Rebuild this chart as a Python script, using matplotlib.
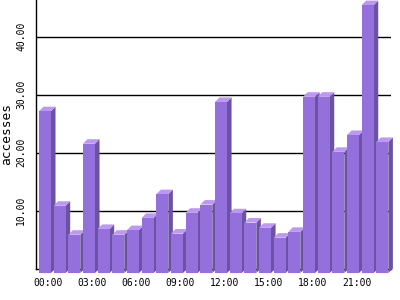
import matplotlib
matplotlib.use("Agg")
import matplotlib.pyplot as plt

hours = ["%02d:00" % h for h in range(24)]
accesses = [27.9, 11.6, 6.6, 22.3, 7.6, 6.6, 7.4, 9.5, 13.6, 6.8, 10.4, 11.8,
            29.5, 10.3, 8.7, 7.8, 6.1, 7.1, 30.4, 30.4, 20.9, 23.8, 46.2, 22.6]
yticks = [10, 20, 30, 40]

front_col = "#9370DB"
side_col = "#6B52A3"
top_col = "#BE96F8"

w = 0.82     # front face width
dx = 0.31    # depth offset in x (data units)
dy = 0.78    # depth offset in y (data units)

fig = plt.figure(figsize=(4, 3), dpi=100)
ax = fig.add_axes([0.09, 0.105, 0.8875, 0.895])

ax.set_xlim(-0.2, 24.0)
ax.set_ylim(0, 46.3)

for y in yticks:
    ax.axhline(y, color="black", lw=1.0, zorder=1)

for i, v in enumerate(accesses):
    z = 2 + i
    ax.fill([i + w, i + w + dx, i + w + dx, i + w],
            [-dy, 0, v, v - dy], color=side_col, lw=0, zorder=z, clip_on=False)
    ax.fill([i, i + dx, i + w + dx, i + w],
            [v - dy, v, v, v - dy], color=top_col, lw=0, zorder=z, clip_on=False)
    ax.bar(i, v, width=w, bottom=-dy, align="edge", color=front_col, lw=0,
           zorder=z, clip_on=False)

for s in ["top", "right"]:
    ax.spines[s].set_visible(False)
for s in ["left", "bottom"]:
    ax.spines[s].set_linewidth(1.0)
    ax.spines[s].set_zorder(1)

mono = "DejaVu Sans Mono"
ax.set_xticks([i + 0.65 for i in range(0, 24, 3)])
ax.set_xticklabels(hours[::3], family=mono, fontsize=7)
ax.set_yticks(yticks)
ax.set_yticklabels(["%.2f" % t for t in yticks], family=mono, fontsize=7,
                   rotation=90, va="center")
ax.tick_params(axis="x", length=0, pad=7)
ax.tick_params(axis="y", length=0, pad=7)

ax.set_ylabel("accesses", family=mono, fontsize=9.3)
ax.yaxis.set_label_coords(-0.065, 0.5)

fig.savefig("out.png", dpi=100)
